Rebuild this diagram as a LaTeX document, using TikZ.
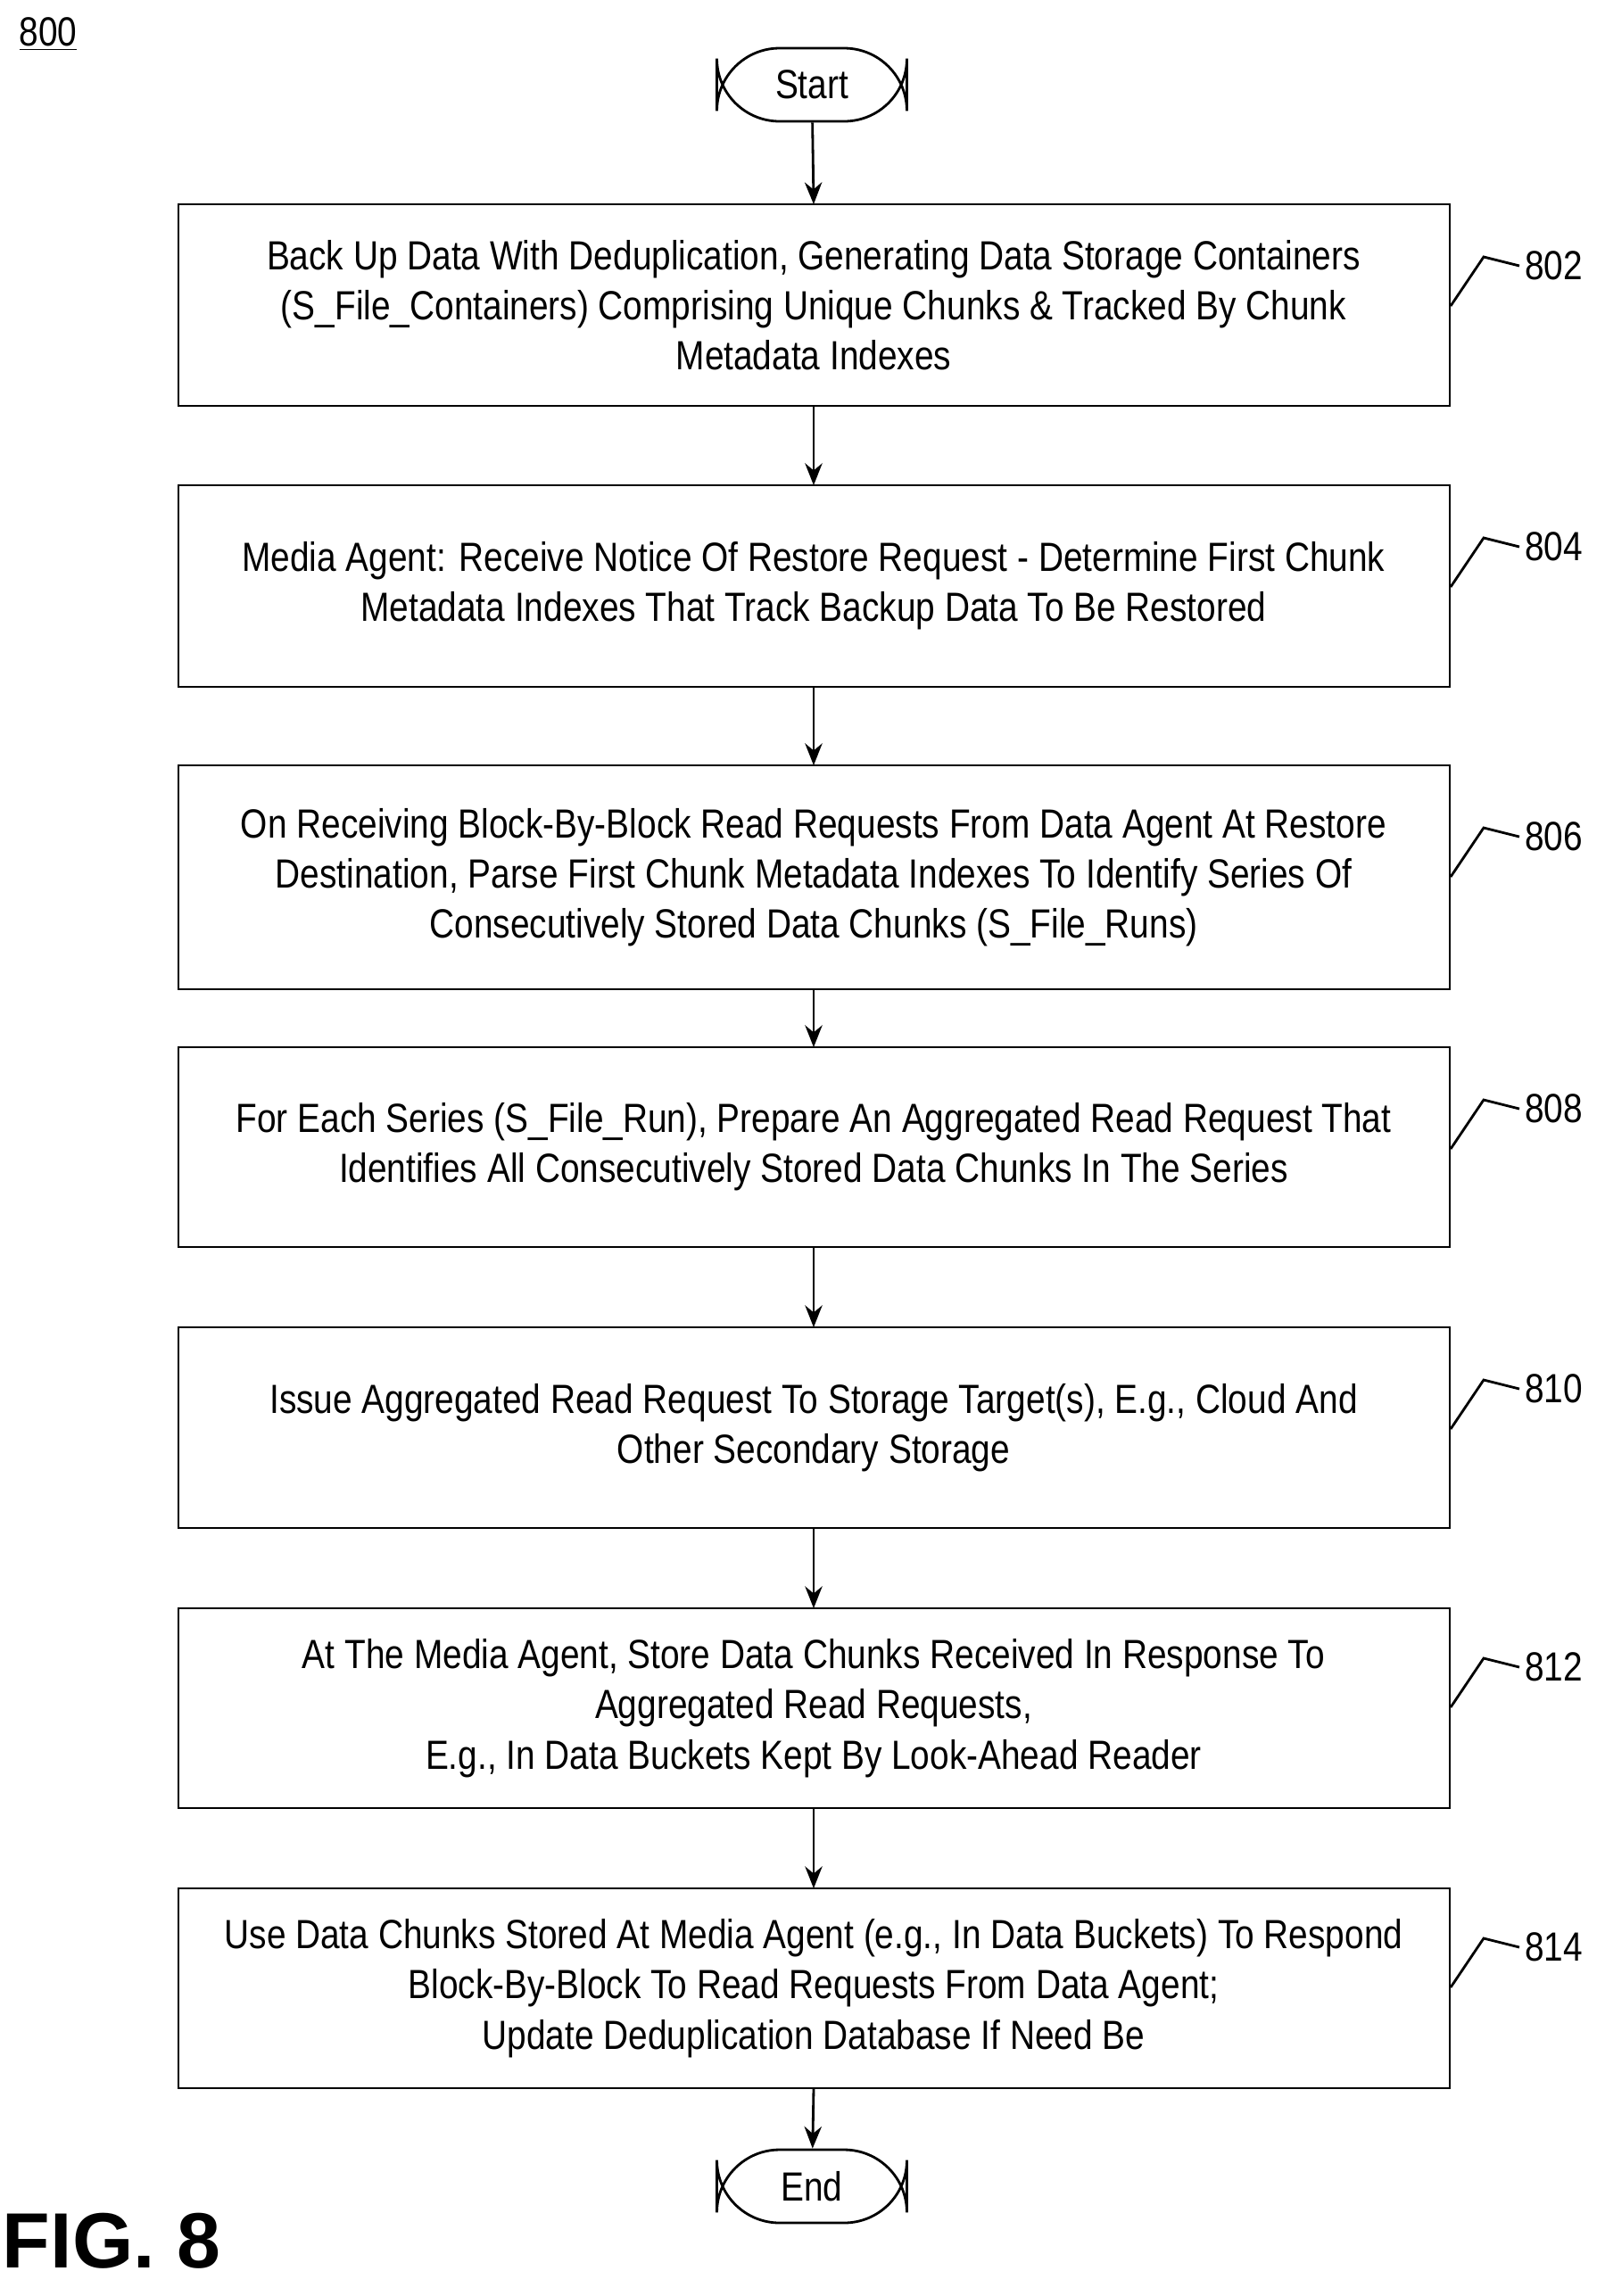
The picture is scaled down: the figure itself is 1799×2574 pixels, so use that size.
\documentclass[tikz,border=0pt]{standalone}
\usepackage{fontspec}
\setmainfont{Liberation Sans}[FakeStretch=0.85]
\newfontfamily\figfont{Liberation Sans}
\usetikzlibrary{shapes.geometric,arrows.meta}
\begin{document}
\begin{tikzpicture}[x=0.02cm,y=-0.02cm,
  box/.style={draw,line width=1.6pt,inner sep=0pt},
  txt/.style={align=center,font=\fontsize{26}{32}\selectfont},
  term/.style={draw,line width=1.6pt,rounded corners=40,minimum width=4.26cm,minimum height=1.64cm,font=\fontsize{26}{32}\selectfont},
  arr/.style={line width=1.6pt,-{Stealth[length=14pt,width=11pt]}},
  lead/.style={line width=1.6pt},
  lbl/.style={font=\fontsize{26}{32}\selectfont}]
\useasboundingbox (0,0) rectangle (1799,2574);
\fill[white] (0,0) rectangle (1799,2574);
\node[font=\fontsize{26}{32}\selectfont] (n800) at (54,38) {\underline{800}};
\node[font=\figfont\bfseries\fontsize{50}{60}\selectfont] (fig) at (125,2512) {FIG. 8};
\node[term] (start) at (910,95) {Start};
\node[term] (end) at (910,2451) {End};
\def\bx#1#2#3#4{%
  \draw[box] (200,#2) rectangle (1625,#3);
  \node[txt] (#1) at (912,{(#2+#3)/2}) {#4};
  \coordinate (#1n) at (912,#2); \coordinate (#1s) at (912,#3);}
\bx{b802}{229}{455}{Back Up Data With Deduplication, Generating Data Storage Containers\\(S\_File\_Containers) Comprising Unique Chunks \& Tracked By Chunk\\Metadata Indexes}
\bx{b804}{544}{770}{Media Agent: Receive Notice Of Restore Request - Determine First Chunk\\Metadata Indexes That Track Backup Data To Be Restored}
\bx{b806}{858}{1109}{On Receiving Block-By-Block Read Requests From Data Agent At Restore\\Destination, Parse First Chunk Metadata Indexes To Identify Series Of\\Consecutively Stored Data Chunks (S\_File\_Runs)}
\bx{b808}{1174}{1398}{For Each Series (S\_File\_Run), Prepare An Aggregated Read Request That\\Identifies All Consecutively Stored Data Chunks In The Series}
\bx{b810}{1488}{1713}{Issue Aggregated Read Request To Storage Target(s), E.g., Cloud And\\Other Secondary Storage}
\bx{b812}{1803}{2027}{At The Media Agent, Store Data Chunks Received In Response To\\Aggregated Read Requests,\\E.g., In Data Buckets Kept By Look-Ahead Reader}
\bx{b814}{2117}{2341}{Use Data Chunks Stored At Media Agent (e.g., In Data Buckets) To Respond\\Block-By-Block To Read Requests From Data Agent;\\Update Deduplication Database If Need Be}
\draw[arr] (start) -- (b802n);
\draw[arr] (b802s) -- (b804n);
\draw[arr] (b804s) -- (b806n);
\draw[arr] (b806s) -- (b808n);
\draw[arr] (b808s) -- (b810n);
\draw[arr] (b810s) -- (b812n);
\draw[arr] (b812s) -- (b814n);
\draw[arr] (b814s) -- (end);
\foreach \n/\y in {802/298,804/613,806/938,808/1243,810/1557,812/1869,814/2183}{
  \node[lbl,anchor=west] (l\n) at (1703,\y) {\n};
  \coordinate (c\n) at (1626,\y+45);
  \draw[lead] (c\n) -- (1663,\y-10) -- (l\n.west);
}
\end{tikzpicture}
\end{document}
